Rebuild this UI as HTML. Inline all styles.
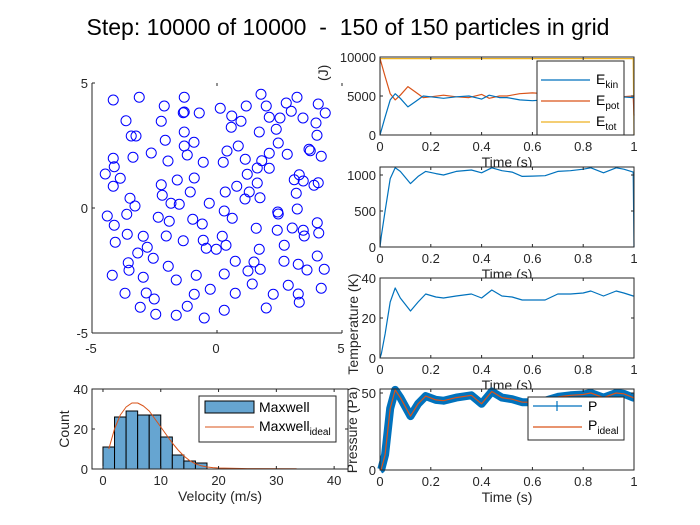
<!DOCTYPE html>
<html><head><meta charset="utf-8">
<style>
body{margin:0;background:#fff;}
svg{display:block;font-family:"Liberation Sans",sans-serif;}
</style></head>
<body>
<svg id="fig" width="700" height="525" viewBox="0 0 700 525">
<rect width="700" height="525" fill="#fff"/>
<text x="348" y="35" text-anchor="middle" font-size="23" fill="#000" style="white-space:pre" xml:space="preserve">Step: 10000 of 10000  -  150 of 150 particles in grid</text>
</svg>
<script>
// ---------- DATA ----------
const px = [-4.15,-3.11,-1.31,-2.11,-1.35,-1.31,-0.71,0.13,1.17,1.76,1.97,2.77,3.20,2.97,4.05,4.33,-3.64,-2.23,0.59,0.96,0.57,2.09,2.52,3.44,3.96,-3.43,-3.24,-1.31,-2.07,1.69,2.37,4.00,-0.92,-1.31,0.85,2.45,0.40,-2.63,-1.19,-3.36,-4.15,-1.96,-0.55,0.25,1.13,1.79,2.09,2.81,3.68,3.73,4.17,-4.11,-4.47,-3.87,1.61,2.09,1.21,3.29,3.09,3.45,4.05,3.88,-4.15,-2.23,-1.59,-0.91,1.61,0.79,-2.19,-1.07,0.33,1.29,3.17,-3.48,1.12,1.72,-3.28,-1.84,-1.51,-0.31,
0.29,2.43,2.45,3.21,-4.39,-3.61,-4.11,-2.35,-1.91,-0.97,-0.59,0.61,1.57,2.41,3.01,3.45,3.49,4.01,4.07,-3.59,-2.95,-2.03,-1.35,-0.55,0.21,-4.07,0.36,-0.43,-0.03,-2.79,-3.17,1.69,2.69,-2.55,-3.55,-3.52,-1.95,0.73,1.48,1.24,1.73,2.68,3.25,3.60,4.01,4.29,-4.19,-2.95,-1.63,-0.83,0.29,1.41,2.85,4.17,-3.68,-2.83,-2.51,-0.91,-0.27,0.73,2.25,3.25,3.29,-3.07,-2.45,-1.63,-1.19,-0.51,0.29,1.97];
const py = [4.32,4.43,4.43,4.08,3.81,3.84,3.80,3.99,4.08,4.55,4.08,4.20,4.43,3.87,4.16,3.80,3.49,3.47,3.68,3.47,3.23,3.63,3.60,3.60,3.40,2.88,2.88,3.04,2.71,3.04,3.15,2.91,2.63,2.48,2.48,2.60,2.28,2.20,2.12,2.03,1.99,1.88,1.83,1.83,1.95,1.89,2.19,2.15,2.35,2.29,2.07,1.65,1.36,1.19,1.60,1.59,1.35,1.33,1.13,1.08,1.01,0.91,0.87,0.93,1.12,1.20,1.00,0.87,0.51,0.64,0.64,0.64,0.59,0.39,0.36,0.41,0.08,0.19,0.15,0.19,
-0.12,-0.16,-0.24,-0.04,-0.32,-0.25,-0.69,-0.37,-0.53,-0.45,-0.64,-0.41,-0.81,-0.89,-0.80,-0.89,-1.12,-0.59,-1.00,-1.05,-1.13,-1.12,-1.31,-1.29,-1.13,-1.37,-1.49,-1.61,-1.65,-1.57,-1.80,-1.65,-1.49,-2.01,-2.19,-2.49,-2.33,-2.13,-2.16,-2.52,-2.45,-2.13,-2.25,-2.48,-1.92,-2.45,-2.69,-2.77,-2.88,-2.69,-2.64,-3.04,-3.09,-3.21,-3.41,-3.40,-3.64,-3.45,-3.25,-3.41,-3.45,-3.44,-3.77,-3.97,-4.25,-4.29,-3.93,-4.40,-4.09,-4.00];

const tE   = [0,0.02,0.04,0.06,0.08,0.11,0.14,0.17,0.2,0.25,0.3,0.35,0.4,0.43,0.47,0.5,0.55,0.6,0.65,0.7,0.75,0.8,0.85,0.9,0.95,0.997,1.0];
const eKin = [0,2300,4500,5300,4700,3600,4300,5000,4900,4700,4900,5000,4600,5100,4800,4800,4500,4400,4500,4600,4700,4900,4900,4700,4900,4800,4800];
const ePot = [9800,7500,5300,4500,5100,6200,5500,4800,4900,5100,4900,4800,5200,4700,5000,5000,5300,5400,5300,5200,5100,4900,4900,5100,4900,5000,2500];
const eTot = [9800,9800,9800,9800,9800,9800,9800,9800,9800,9800,9800,9800,9800,9800,9800,9800,9800,9800,9800,9800,9800,9800,9800,9800,9800,9800,0];

const tS   = [0,0.005,0.02,0.04,0.06,0.08,0.12,0.15,0.18,0.22,0.25,0.3,0.36,0.4,0.44,0.48,0.52,0.56,0.6,0.65,0.7,0.75,0.8,0.83,0.88,0.93,0.96,0.997,1.0];
const vel  = [0,150,500,950,1100,1050,880,980,1050,1020,1000,1050,1070,1030,1100,1060,1040,980,985,990,1050,1060,1080,1100,1030,1100,1080,1040,0];
const temp = [0,2,12,28,35,30,23.5,28,32,30.5,30,31,32,30,34,31,30.5,29,29,29,32,32,32.5,33.5,31,33.5,32.5,31,31];
const pres = [0,0.5,10,40,52,47,35,43,48,45.5,45,47,48.5,43,51,47,46,44,44,45,47.5,48.5,49,50,47,50,49.5,47,47];

const vBins   = [0,2,4,6,8,10,12,14,16,18];
const vCounts = [11,26,29,27,27,16,7,4,3,0];
const vIdeal  = [1,2,3,4,5,6,7,8,9,10,11,12,13,14,15,16,17,18,19,20,25,33.5];
const fIdeal  = [10,20,27,31,33,33,31.5,29,25,21,17,13,9.5,6.5,4.2,2.6,1.6,1.0,0.7,0.5,0.2,0.1];

const timeTicks = [0,0.2,0.4,0.6,0.8,1];
const timeTickLabels = ["0","0.2","0.4","0.6","0.8","1"];

// ---------- helpers ----------
const NS="http://www.w3.org/2000/svg";
const svg=document.getElementById('fig');
function el(tag,attrs,parent,text){
  const e=document.createElementNS(NS,tag);
  for(const k in attrs) e.setAttribute(k,attrs[k]);
  if(text!==undefined) e.textContent=text;
  (parent||svg).appendChild(e); return e;
}
const AX="#262626";
function axes(name,x0,y0,w,h,xmin,xmax,ymin,ymax){
  const g=el('g',{});
  
  
  el('rect',{x:x0,y:y0,width:w,height:h,fill:'#fff'},g);
  const sx=v=>x0+(v-xmin)/(xmax-xmin)*w;
  const sy=v=>y0+h-(v-ymin)/(ymax-ymin)*h;
  const plot=el('g',{},g);
  return {g,plot,sx,sy,x0,y0,w,h};
}
function frame(a,xt,xl,yt,yl,xname,yname){
  const g=a.g;
  const fg=el('g',{},g);
  
  
  el('rect',{x:a.x0,y:a.y0,width:a.w,height:a.h,fill:'none',stroke:AX,'stroke-width':1},fg);
  xt.forEach((v,i)=>{
    const x=a.sx(v);
    el('line',{x1:x,y1:a.y0+a.h,x2:x,y2:a.y0+a.h-3,stroke:AX},fg);
    el('line',{x1:x,y1:a.y0,x2:x,y2:a.y0+3,stroke:AX},fg);
    const t=el('text',{x:x,y:a.y0+a.h+16,'text-anchor':'middle','font-size':13,fill:AX},fg,xl[i]);
    
    
  });
  yt.forEach((v,i)=>{
    const y=a.sy(v);
    el('line',{x1:a.x0,y1:y,x2:a.x0+3,y2:y,stroke:AX},fg);
    el('line',{x1:a.x0+a.w,y1:y,x2:a.x0+a.w-3,y2:y,stroke:AX},fg);
    const t=el('text',{x:a.x0-4,y:y+5,'text-anchor':'end','font-size':13,fill:AX},fg,yl[i]);
    
    
  });
}
function line(a,xs,ys,color,width,name){
  const d=xs.map((x,i)=>(i?'L':'M')+a.sx(x).toFixed(1)+' '+a.sy(ys[i]).toFixed(1)).join(' ');
  const p=el('path',{d:d,fill:'none',stroke:color,'stroke-width':width,'stroke-linejoin':'round'},a.plot);
  
  
  return p;
}
function label(x,y,txt,rot,name){
  const t=el('text',{x:x,y:y,'text-anchor':'middle','font-size':14,fill:AX,transform:rot?`rotate(-90 ${x} ${y})`:''});
  t.textContent=txt;
  
  
  return t;
}
const BLUE="#0072BD",ORANGE="#D95319",YEL="#EDB120";

// ---------- Energy ----------
const aE=axes('energy-plot',380,57,254,78,0,1,0,10000);
line(aE,tE,eTot,YEL,1.2,'etot-line');
line(aE,tE,ePot,ORANGE,1.2,'epot-line');
line(aE,tE,eKin,BLUE,1.2,'ekin-line');
frame(aE,timeTicks,timeTickLabels,[0,5000,10000],["0","5000","10000"],'energy-x','energy-y');
label(507,167,'Time (s)',false,'energy-x-title');
(function(){
  const g=el('g',{});
  
  
  el('rect',{x:537,y:61,width:87,height:74,fill:'#fff',stroke:AX},g);
  const ent=[['E','kin',BLUE,80],['E','pot',ORANGE,101],['E','tot',YEL,122]];
  ent.forEach(e=>{
    const eg=el('g',{},g);
    
    
    el('line',{x1:541,y1:e[3],x2:590,y2:e[3],stroke:e[2],'stroke-width':1.2},eg);
    const t=el('text',{x:596,y:e[3]+4,'font-size':14,fill:'#000'},eg);
    t.appendChild(document.createTextNode(e[0]));
    el('tspan',{'font-size':10,dy:4},t,e[1]);
  });
})();

// ---------- second (unlabelled) ----------
const aV=axes('kinetic-plot',380,167,254,80,0,1,0,1111);
line(aV,tS,vel,BLUE,1.2,'kinetic-line');
frame(aV,timeTicks,timeTickLabels,[0,500,1000],["0","500","1000"],'kinetic-x','kinetic-y');
label(507,279,'Time (s)',false,'kinetic-x-title');

// ---------- Temperature ----------
const aT=axes('temperature-plot',380,278,254,80,0,1,0,40);
line(aT,tS,temp,BLUE,1.2,'temperature-line');
frame(aT,timeTicks,timeTickLabels,[0,20,40],["0","20","40"],'temp-x','temp-y');
label(507,390,'Time (s)',false,'temp-x-title');
label(358,324,'Temperature (K)',true,'temperature-y-title');

// ---------- Pressure ----------
const aP=axes('pressure-plot',380,389,254,81,0,1,0,52.6);
line(aP,tS,pres,BLUE,8,'pressure-line');
line(aP,tS,pres,ORANGE,1.2,'pressure-ideal-line');
frame(aP,timeTicks,timeTickLabels,[0,50],["0","50"],'pres-x','pres-y');
label(507,502,'Time (s)',false,'pres-x-title');
label(357,430,'Pressure (Pa)',true,'pressure-y-title');
(function(){
  const g=el('g',{});
  
  
  el('rect',{x:528,y:397,width:96,height:43,fill:'#fff',stroke:AX},g);
  el('line',{x1:533,y1:406,x2:582,y2:406,stroke:BLUE,'stroke-width':1.2},g);
  el('line',{x1:557,y1:401,x2:557,y2:411,stroke:BLUE,'stroke-width':1.2},g);
  el('text',{x:588,y:411,'font-size':14,fill:'#000'},g,'P');
  el('line',{x1:533,y1:427,x2:582,y2:427,stroke:ORANGE,'stroke-width':1.2},g);
  const t=el('text',{x:588,y:430,'font-size':14,fill:'#000'},g,'P');
  el('tspan',{'font-size':10,dy:4},t,'ideal');
})();

// ---------- Histogram ----------
const aH=axes('velocity-histogram',92,389,256,80,-1.9,42.4,0,40);
vBins.forEach((b,i)=>{
  if(!vCounts[i]) return;
  const r=el('rect',{x:aH.sx(b),y:aH.sy(vCounts[i]),width:aH.sx(b+2)-aH.sx(b),height:aH.sy(0)-aH.sy(vCounts[i]),fill:'#66A5D1',stroke:'#000','stroke-width':1},aH.plot);
  
  
});
line(aH,vIdeal,fIdeal,ORANGE,1,'maxwell-ideal-line');
frame(aH,[0,10,20,30,40],["0","10","20","30","40"],[0,20,40],["0","20","40"],'hist-x','hist-y');
label(220,501,'Velocity (m/s)',false,'hist-x-title');
label(69,429,'Count',true,'hist-y-title');
(function(){
  const g=el('g',{});
  
  
  el('rect',{x:199,y:396,width:137,height:46,fill:'#fff',stroke:AX},g);
  el('rect',{x:205,y:401,width:49,height:12,fill:'#66A5D1',stroke:'#000'},g);
  el('text',{x:259,y:412,'font-size':14,fill:'#000'},g,'Maxwell');
  el('line',{x1:205,y1:427,x2:254,y2:427,stroke:ORANGE,'stroke-width':1},g);
  const t=el('text',{x:259,y:431,'font-size':14,fill:'#000'},g,'Maxwell');
  el('tspan',{'font-size':10,dy:4},t,'ideal');
})();

// ---------- Scatter ----------
label(328,97,'Energy (J)',true,'energy-y-title');
const aS=axes('particle-grid',92,83,250,250,-5,5,-5,5);
px.forEach((x,i)=>{
  const c=el('circle',{cx:aS.sx(x),cy:aS.sy(py[i]),r:5,fill:'none',stroke:'#0000FF','stroke-width':1},aS.plot);
  
  
});
(function(){
  const g=aS.g;
  el('line',{x1:92,y1:83,x2:92,y2:333,stroke:AX},g);
  el('line',{x1:92,y1:333,x2:342,y2:333,stroke:AX},g);
  [-5,0,5].forEach(v=>{
    const x=aS.sx(v),y=aS.sy(v);
    el('line',{x1:x,y1:333,x2:x,y2:330,stroke:AX},g);
    el('line',{x1:x,y1:83,x2:x,y2:86,stroke:AX},g);
    el('line',{x1:92,y1:y,x2:95,y2:y,stroke:AX},g);
    const tx=el('text',{x:x-1,y:353,'text-anchor':'middle','font-size':13,fill:AX},g,String(v));
    
    
    const ty=el('text',{x:88,y:y+5,'text-anchor':'end','font-size':13,fill:AX},g,String(v));
    
    
  });
})();
</script>
</body></html>
